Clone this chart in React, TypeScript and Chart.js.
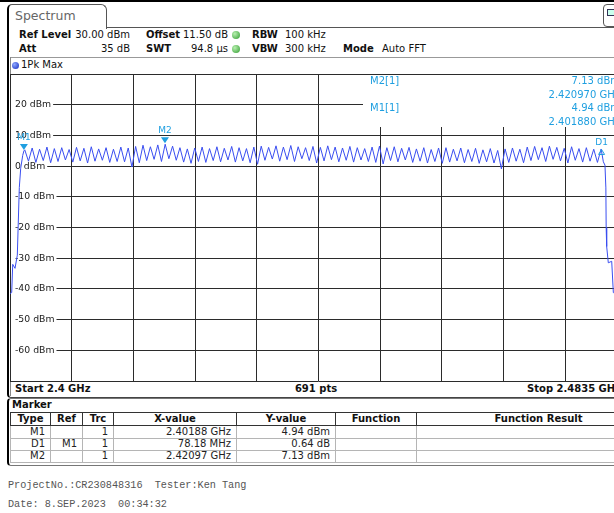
import React, { useEffect, useRef } from "react";
import { Chart, registerables } from "chart.js";

Chart.register(...registerables);

// ---------------- data ----------------
const startMHz = 2400;
const stopMHz = 2483.5;
const refLevelDbm = 30;
const bottomLevelDbm = -70;
const yLabelDbm = [20, 10, 0, -10, -20, -30, -40, -50, -60];
const xDivisions = 10;

// rising band edge
const riseMHz = [2400.0, 2400.23, 2400.37, 2400.68, 2400.99, 2401.26, 2401.45, 2401.72, 2401.88];
const riseDbm = [-41.5, -41.2, -32.0, -33.3, -29.0, -7.0, -0.7, 3.5, 4.94];

// hopping channels 2402 ... 2480 MHz: peak level per channel
const firstChannelMHz = 2402;
const channelPeakDbm = [
  5.3, 5.9, 5.5, 6.2, 5.7, 6.0, 5.4, 6.1, 5.8, 6.3,
  5.6, 6.0, 5.5, 6.2, 5.9, 6.4, 6.8, 6.3, 6.9, 7.13,
  6.5, 6.0, 5.6, 5.9, 6.2, 5.7, 6.3, 5.8, 6.4, 6.0,
  5.7, 6.2, 6.5, 6.1, 6.6, 6.2, 6.7, 6.3, 6.0, 6.4,
  6.1, 6.6, 6.2, 5.9, 6.4, 6.0, 5.7, 6.2, 6.5, 6.0,
  6.3, 5.8, 6.1, 5.6, 6.0, 5.4, 5.9, 6.0, 5.5, 5.9,
  5.4, 5.8, 5.3, 5.7, 5.1, 5.6, 5.9, 5.5, 6.2, 6.4,
  6.0, 6.5, 6.1, 5.8, 6.3, 5.7, 6.0, 5.5, 5.58,
];
// level between neighbouring channels
const channelGapDbm = [
  1.6, 1.2, 1.8, 1.1, 1.5, 2.0, 1.3, 1.7, 1.0, 1.6,
  1.9, 1.2, 1.5, 1.4, -0.3, 1.1, 1.8, 2.2, 1.5, 2.4,
  1.9, 1.3, 0.9, 1.5, 1.2, 1.8, 1.4, 2.0, 1.3, 1.7,
  1.1, 0.6, 1.9, 2.3, 1.6, 2.1, 1.5, 2.4, 1.8, 1.0,
  1.7, 2.1, 1.4, 1.9, 1.3, 2.0, 1.5, 1.2, 0.7, 1.8,
  1.4, 2.0, 1.2, 1.6, 1.0, 1.5, 0.9, 1.3, 1.7, 1.1,
  1.5, 0.9, 1.4, 1.0, -0.9, 1.2, 1.6, 1.1, 1.8, 2.1,
  1.5, 2.2, 1.7, 1.0, 1.9, 1.3, 1.6, 1.2,
];

// falling band edge
const fallMHz = [2480.3, 2480.52, 2480.64, 2480.68, 2480.75, 2480.97, 2481.43, 2481.65, 2482.6, 2483.5];
const fallDbm = [1.4, 0.3, -7.1, -20.0, -26.2, -31.5, -31.0, -41.2, -42.6, -43.1];

// markers
const markerNames = ["M1", "M2", "D1"];
const markerMHz = [2401.88, 2420.97, 2480.06];
const markerDbm = [4.94, 7.13, 5.58];
const markerKinds = ["normal", "normal", "delta"];

const infoMarkerLabels = ["M2[1]", "M1[1]"];
const infoMarkerLevels = ["7.13 dBm", "4.94 dBm"];
const infoMarkerFreqs = ["2.420970 GHz", "2.401880 GHz"];

const tableHead = ["Type", "Ref", "Trc", "X-value", "Y-value", "Function", "Function Result"];
const tableRows = [
  ["M1", "", "1", "2.40188 GHz", "4.94 dBm", "", ""],
  ["D1", "M1", "1", "78.18 MHz", "0.64 dB", "", ""],
  ["M2", "", "1", "2.42097 GHz", "7.13 dBm", "", ""],
];

const headerRow1 = ["Ref Level", "30.00 dBm", "Offset", "11.50 dB", "RBW", "100 kHz"];
const headerRow2 = ["Att", "35 dB", "SWT", "94.8 µs", "VBW", "300 kHz", "Mode", "Auto FFT"];
const footerLines = ["ProjectNo.:CR230848316  Tester:Ken Tang", "Date: 8.SEP.2023  00:34:32"];

// ---------------- styling ----------------
const FONT = '"DejaVu Sans", Verdana, sans-serif';
const MONO = '"Liberation Mono", "DejaVu Sans Mono", monospace';
const MARKER_BLUE = "#1f9fe0";
const TRACE_BLUE = "#3a4ef0";
const colEdges = [10, 50, 82, 113, 236, 335, 416, 660];

function buildTrace() {
  const pts: { x: number; y: number }[] = [];
  riseMHz.forEach((f, i) => pts.push({ x: f, y: riseDbm[i] }));
  channelPeakDbm.forEach((v, i) => {
    pts.push({ x: firstChannelMHz + i, y: v });
    if (i < channelGapDbm.length) pts.push({ x: firstChannelMHz + i + 0.5, y: channelGapDbm[i] });
  });
  fallMHz.forEach((f, i) => pts.push({ x: f, y: fallDbm[i] }));
  return pts;
}

const markerPlugin = {
  id: "rsMarkers",
  afterDatasetsDraw(chart: any) {
    const { ctx, scales } = chart;
    const xs = scales.x;
    const ys = scales.y;
    ctx.save();
    ctx.fillStyle = MARKER_BLUE;
    ctx.strokeStyle = MARKER_BLUE;
    ctx.font = `9px ${FONT}`;
    ctx.textAlign = "center";
    ctx.textBaseline = "middle";
    for (let i = 0; i < markerNames.length; i++) {
      const px = xs.getPixelForValue(markerMHz[i]);
      const py = ys.getPixelForValue(markerDbm[i]);
      if (markerKinds[i] === "delta") {
        ctx.beginPath();
        ctx.moveTo(px, py + 0.5);
        ctx.lineTo(px - 3, py + 5.5);
        ctx.lineTo(px + 3, py + 5.5);
        ctx.closePath();
        ctx.lineWidth = 1;
        ctx.stroke();
        ctx.fillText(markerNames[i], px, py - 6.5);
      } else {
        ctx.beginPath();
        ctx.moveTo(px, py - 1);
        ctx.lineTo(px - 4, py - 7);
        ctx.lineTo(px + 4, py - 7);
        ctx.closePath();
        ctx.fill();
        ctx.fillText(markerNames[i], px, py - 13.5);
      }
    }
    ctx.restore();
  },
};

type TP = {
  x: number;
  y: number;
  text: string;
  bold?: boolean;
  align?: "left" | "right" | "center";
  color?: string;
  size?: number;
  font?: string;
};

function Txt({ x, y, text, bold, align = "left", color = "#111", size = 10, font = FONT }: TP) {
  const h = 14;
  const w = 400;
  const left = align === "left" ? x : align === "right" ? x - w : x - w / 2;
  return (
    <div
      style={{
        position: "absolute",
        left,
        top: y - h / 2,
        width: w,
        height: h,
        lineHeight: h + "px",
        textAlign: align,
        fontWeight: bold ? "bold" : "normal",
        color,
        fontSize: size,
        fontFamily: font,
        whiteSpace: "pre",
      }}
    >
      {text}
    </div>
  );
}

function Dot({ x, y, d, c1, c2 }: { x: number; y: number; d: number; c1: string; c2: string }) {
  return (
    <div
      style={{
        position: "absolute",
        left: x - d / 2,
        top: y - d / 2,
        width: d,
        height: d,
        borderRadius: "50%",
        background: `radial-gradient(circle at 35% 35%, ${c1}, ${c2})`,
      }}
    />
  );
}

export default function App() {
  const canvasRef = useRef<HTMLCanvasElement>(null);

  useEffect(() => {
    document.body.style.margin = "0";
    const canvas = canvasRef.current!;
    const xGrid: number[] = [];
    for (let k = 0; k <= xDivisions; k++) xGrid.push(startMHz + ((stopMHz - startMHz) * k) / xDivisions);

    const chart = new Chart(canvas, {
      type: "line",
      data: {
        datasets: [
          {
            data: buildTrace(),
            borderColor: TRACE_BLUE,
            borderWidth: 1,
            pointRadius: 0,
            tension: 0,
            fill: false,
          },
        ],
      },
      options: {
        responsive: false,
        animation: false,
        events: [],
        layout: { padding: { left: 0, top: 0, right: 1, bottom: 1 } },
        plugins: { legend: { display: false }, tooltip: { enabled: false }, title: { display: false } },
        scales: {
          x: {
            type: "linear",
            min: startMHz,
            max: stopMHz,
            afterBuildTicks: (scale: any) => {
              scale.ticks = xGrid.map((v) => ({ value: v }));
            },
            afterFit: (scale: any) => {
              scale.height = 0;
              scale.paddingLeft = 0;
              scale.paddingRight = 0;
            },
            ticks: { display: false },
            grid: { color: "#2b2b2b", lineWidth: 1, drawTicks: false },
            border: { display: false },
          },
          y: {
            type: "linear",
            min: bottomLevelDbm,
            max: refLevelDbm,
            afterFit: (scale: any) => {
              scale.width = 0;
              scale.paddingTop = 0;
              scale.paddingBottom = 0;
            },
            ticks: {
              stepSize: 10,
              autoSkip: false,
              mirror: true,
              padding: 5,
              color: "#1a1a1a",
              font: { family: FONT, size: 9.3 },
              callback: (v: any) => (yLabelDbm.includes(Number(v)) ? `${v} dBm` : ""),
              showLabelBackdrop: (ctx: any) => yLabelDbm.includes(ctx.tick?.value),
              backdropColor: "#ffffff",
              backdropPadding: { left: 4, right: 2, top: 1, bottom: 1 },
            } as any,
            grid: { color: "#2b2b2b", lineWidth: 1, drawTicks: false },
            border: { display: false },
          },
        },
      } as any,
      plugins: [markerPlugin],
    });
    return () => chart.destroy();
  }, []);

  const rowCenters = [431.5, 443.5, 455.5];

  return (
    <div
      style={{
        position: "fixed",
        left: 0,
        top: 0,
        width: 614,
        height: 513,
        overflow: "hidden",
        background: "#fff",
        fontFamily: FONT,
        fontSize: 10,
        color: "#111",
      }}
    >
      {/* top strip */}
      <div style={{ position: "absolute", left: 0, top: 0, width: 614, height: 2, background: "#000" }} />

      {/* spectrum window frame */}
      <div
        style={{
          position: "absolute",
          left: 7,
          top: 27,
          width: 700,
          height: 369,
          borderLeft: "2px solid #000",
          borderTop: "1px solid #555",
          borderBottom: "1px solid #444",
          borderBottomLeftRadius: 4,
        }}
      />
      {/* tab */}
      <div
        style={{
          position: "absolute",
          left: 7,
          top: 4,
          width: 97,
          height: 24,
          borderLeft: "2px solid #000",
          borderTop: "1px solid #555",
          borderRight: "1px solid #555",
          borderTopLeftRadius: 5,
          borderTopRightRadius: 6,
          background: "#fff",
        }}
      />
      <Txt x={15} y={16} text="Spectrum" size={12.5} color="#666" />
      {/* top right icon */}
      <div
        style={{
          position: "absolute",
          left: 603,
          top: 4,
          width: 20,
          height: 21,
          border: "1px solid #555",
          borderRadius: 4,
          background: "#fff",
        }}
      >
        <div style={{ position: "absolute", left: 3, top: 4, width: 6, height: 5, border: "1px solid #335", background: "#cfe" }} />
      </div>

      {/* header settings */}
      <Txt x={19} y={35} text={headerRow1[0]} bold />
      <Txt x={130} y={35} text={headerRow1[1]} align="right" />
      <Txt x={146} y={35} text={headerRow1[2]} bold />
      <Txt x={228} y={35} text={headerRow1[3]} align="right" />
      <Dot x={236} y={35} d={8} c1="#b8f0b0" c2="#2f9a2f" />
      <Txt x={252} y={35} text={headerRow1[4]} bold />
      <Txt x={285} y={35} text={headerRow1[5]} />

      <Txt x={19} y={49} text={headerRow2[0]} bold />
      <Txt x={130} y={49} text={headerRow2[1]} align="right" />
      <Txt x={146} y={49} text={headerRow2[2]} bold />
      <Txt x={228} y={49} text={headerRow2[3]} align="right" />
      <Dot x={236} y={49} d={8} c1="#b8f0b0" c2="#2f9a2f" />
      <Txt x={252} y={49} text={headerRow2[4]} bold />
      <Txt x={285} y={49} text={headerRow2[5]} />
      <Txt x={343} y={49} text={headerRow2[6]} bold />
      <Txt x={382} y={49} text={headerRow2[7]} />

      {/* trace row */}
      <div style={{ position: "absolute", left: 10, top: 57, width: 640, height: 1, background: "#999" }} />
      <div style={{ position: "absolute", left: 10, top: 57, width: 1, height: 339, background: "#888" }} />
      <Dot x={15} y={65} d={7} c1="#8fa8ff" c2="#1028c0" />
      <Txt x={21} y={65} text="1Pk Max" />

      {/* chart */}
      <canvas
        ref={canvasRef}
        width={618}
        height={308}
        style={{ position: "absolute", left: 10, top: 74, width: 618, height: 308 }}
      />

      {/* marker info box */}
      <div style={{ position: "absolute", left: 363, top: 75, width: 270, height: 52, background: "#fff" }} />
      <Txt x={370} y={81} text={infoMarkerLabels[0]} color={MARKER_BLUE} />
      <Txt x={620} y={81} text={infoMarkerLevels[0]} color={MARKER_BLUE} align="right" />
      <Txt x={620} y={94.5} text={infoMarkerFreqs[0]} color={MARKER_BLUE} align="right" />
      <Txt x={370} y={108} text={infoMarkerLabels[1]} color={MARKER_BLUE} />
      <Txt x={620} y={108} text={infoMarkerLevels[1]} color={MARKER_BLUE} align="right" />
      <Txt x={620} y={121.5} text={infoMarkerFreqs[1]} color={MARKER_BLUE} align="right" />

      {/* bottom bar */}
      <Txt x={15} y={389} text={`Start ${startMHz / 1000} GHz`} bold />
      <Txt x={316} y={389} text="691 pts" bold align="center" />
      <Txt x={621} y={389} text={`Stop ${stopMHz / 1000} GHz`} bold align="right" />

      {/* marker window */}
      <div
        style={{
          position: "absolute",
          left: 7,
          top: 398,
          width: 700,
          height: 66,
          borderLeft: "2px solid #000",
          borderTop: "1px solid #777",
          borderBottom: "1px solid #777",
          borderTopLeftRadius: 4,
          borderBottomLeftRadius: 4,
        }}
      />
      <Txt x={12} y={405} text="Marker" bold />

      {/* table header */}
      {tableHead.map((h, c) => (
        <div
          key={"h" + c}
          style={{
            position: "absolute",
            left: colEdges[c],
            top: 412,
            width: colEdges[c + 1] - colEdges[c] + 1,
            height: 14,
            boxSizing: "border-box",
            border: "1px solid #333",
            fontWeight: "bold",
            textAlign: "center",
            lineHeight: "12px",
            fontSize: 10,
          }}
        >
          {h}
        </div>
      ))}
      {tableRows.map((row, r) =>
        row.map((cell, c) => (
          <div
            key={"c" + r + "_" + c}
            style={{
              position: "absolute",
              left: colEdges[c],
              top: rowCenters[r] - 6,
              width: colEdges[c + 1] - colEdges[c] + 1,
              height: 13,
              boxSizing: "border-box",
              borderLeft: "1px solid #b5b5b5",
              borderRight: "1px solid #b5b5b5",
              borderBottom: "1px solid #b5b5b5",
              textAlign: "right",
              paddingRight: 5,
              lineHeight: "12px",
              fontSize: 10,
              color: "#222",
              whiteSpace: "pre",
            }}
          >
            {cell}
          </div>
        ))
      )}

      {/* footer */}
      <Txt x={8} y={486} text={footerLines[0]} font={MONO} size={10.2} color="#555" />
      <Txt x={8} y={505} text={footerLines[1]} font={MONO} size={10.2} color="#555" />
    </div>
  );
}
